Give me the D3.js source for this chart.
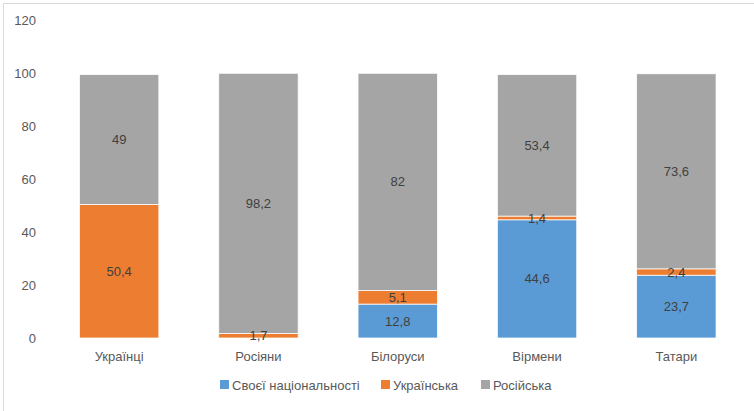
<!DOCTYPE html>
<html><head><meta charset="utf-8">
<script src="https://cdn.jsdelivr.net/npm/d3@7"></script>
<style>body{margin:0;background:#fff;} text{font-family:"Liberation Sans",Arial,sans-serif;}</style>
</head><body><svg id="c" width="754" height="411"></svg>
<script>
const categories = ["Українці","Росіяни","Білоруси","Вірмени","Татари"];
const seriesNames = ["Своєї національності","Українська","Російська"];
const own = [0, 0, 12.8, 44.6, 23.7];
const ukr = [50.4, 1.7, 5.1, 1.4, 2.4];
const rus = [49, 98.2, 82, 53.4, 73.6];
const ownLabels = [null, null, "12,8", "44,6", "23,7"];
const ukrLabels = ["50,4", "1,7", "5,1", "1,4", "2,4"];
const rusLabels = ["49", "98,2", "82", "53,4", "73,6"];
const yTicks = [0,20,40,60,80,100,120];
const colors = ["#5B9BD5","#ED7D31","#A5A5A5"];

const svg = d3.select("#c");
svg.append("rect").attr("x",3.5).attr("y",3.5).attr("width",800).attr("height",500)
  .attr("fill","none").attr("stroke","#d9d9d9").attr("stroke-width",1);

const x = d3.scaleBand().domain(categories).range([49.5, 746]).paddingInner(0.43).paddingOuter(0.215);
const y = d3.scaleLinear().domain([0,120]).range([338,20]);

const data = categories.map((c,i)=>({cat:c, own:own[i], ukr:ukr[i], rus:rus[i], i}));
const stack = d3.stack().keys(["own","ukr","rus"])(data);
const labelSets = [ownLabels, ukrLabels, rusLabels];

// y axis labels
const yAxis = svg.append("g").attr("transform","translate(36,0)")
  .call(d3.axisLeft(y).tickValues(yTicks).tickSize(0).tickPadding(0));
yAxis.select(".domain").remove();
yAxis.selectAll("text").attr("fill","#595959").style("font-size","13px").style("font-family","Liberation Sans, Arial, sans-serif");

stack.forEach((s,k)=>{
  const g = svg.append("g");
  g.selectAll("rect").data(s.filter(d=>d[1]-d[0]>0)).join("rect")
    .attr("x",d=>x(d.data.cat)).attr("width",x.bandwidth())
    .attr("y",d=>y(d[1])).attr("height",d=>y(d[0])-y(d[1]))
    .attr("fill",colors[k]).attr("stroke","#ffffff").attr("stroke-width",0.75);
});
stack.forEach((s,k)=>{
  svg.append("g").selectAll("text").data(s.filter(d=>labelSets[k][d.data.i]!=null)).join("text")
    .attr("x",d=>x(d.data.cat)+x.bandwidth()/2)
    .attr("y",d=>(y(d[0])+y(d[1]))/2)
    .attr("dy","0.35em").attr("text-anchor","middle")
    .attr("fill","#404040").style("font-size","13px")
    .text(d=>labelSets[k][d.data.i]);
});

// x axis
const xAxis = svg.append("g").attr("transform","translate(0,338)")
  .call(d3.axisBottom(x).tickSize(0).tickPadding(14));
xAxis.select(".domain").remove();
xAxis.selectAll("text").attr("fill","#595959").style("font-size","13px").style("font-family","Liberation Sans, Arial, sans-serif");

// legend
const legX = [220, 381, 481];
const leg = svg.append("g");
seriesNames.forEach((n,k)=>{
  leg.append("rect").attr("x",legX[k]).attr("y",380).attr("width",9).attr("height",9).attr("fill",colors[k]);
  leg.append("text").attr("x",legX[k]+12).attr("y",389.5).attr("fill","#595959").style("font-size","13px").text(n);
});
</script></body></html>
